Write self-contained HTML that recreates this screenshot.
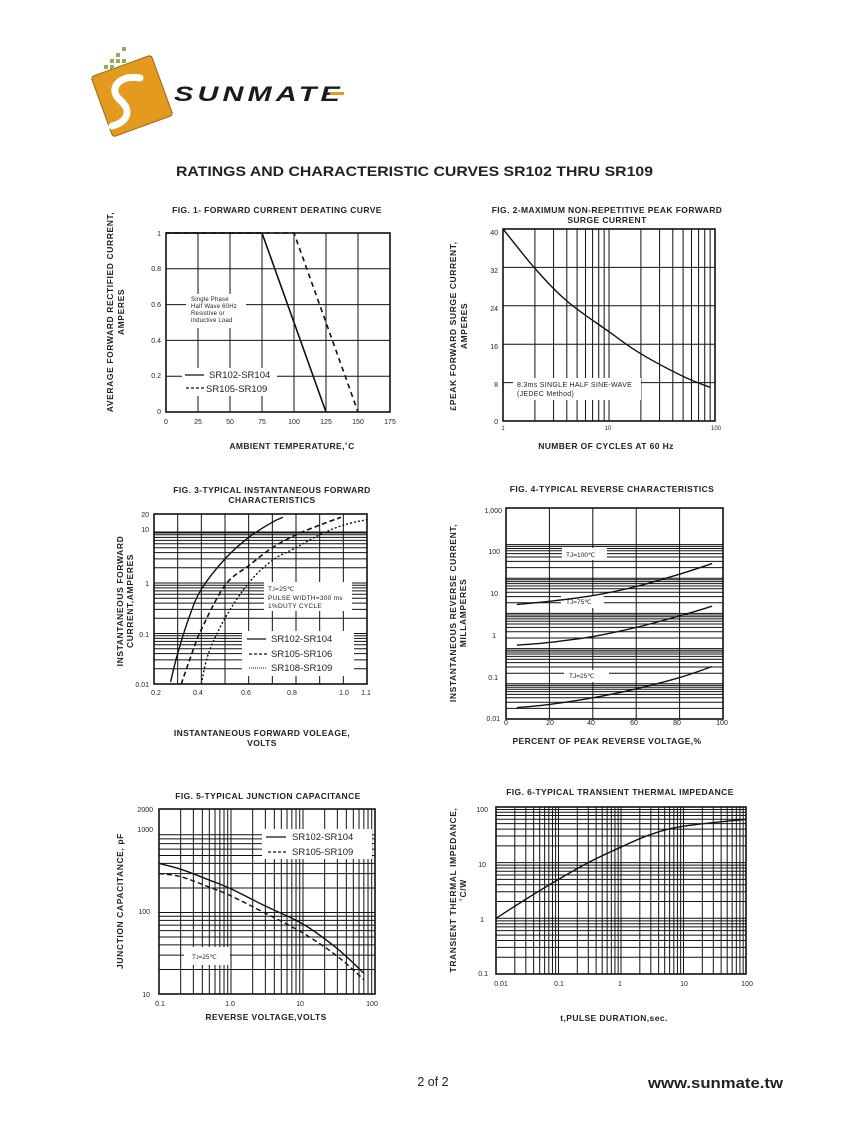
<!DOCTYPE html>
<html><head><meta charset="utf-8"><style>
html,body{margin:0;padding:0;background:#fff;}
svg{display:block;}
text{font-family:"Liberation Sans",Arial,sans-serif;fill:#222;}
.t{font-size:7px;}
.b{font-size:8.5px;font-weight:bold;letter-spacing:0.6px;}
.f{font-size:8.5px;font-weight:bold;letter-spacing:0.4px;}
.l{font-size:10px;}
.s{font-size:6.5px;letter-spacing:0.3px;}
</style></head><body>
<svg id="sv" width="847" height="1125" viewBox="0 0 847 1125" xmlns="http://www.w3.org/2000/svg">
<rect width="847" height="1125" fill="#fff"/>
<!-- logo -->
<g transform="rotate(-20 132 96)">
<rect x="100" y="64" width="64" height="64" rx="3" fill="#e39a1e"/>
<rect x="100" y="64" width="64" height="64" rx="3" fill="none" stroke="#9a6a10" stroke-width="1"/>
</g>
<path d="M140 78 C118 74,108 90,120 100 C132 110,128 122,112 126" fill="none" stroke="#fff" stroke-width="7" stroke-linecap="round"/>
<g fill="#8fae5a"><rect x="116" y="53" width="4" height="4"/><rect x="110" y="59" width="4" height="4"/><rect x="116" y="59" width="4" height="4"/><rect x="122" y="59" width="4" height="4"/><rect x="104" y="65" width="4" height="4"/><rect x="110" y="65" width="4" height="4"/><rect x="122" y="47" width="4" height="4"/></g>
<text x="174" y="101" style="font-size:21px;font-weight:bold;font-style:italic;letter-spacing:3px;fill:#1a1a1a" textLength="170" lengthAdjust="spacingAndGlyphs">SUNMATE</text>
<rect x="330" y="92" width="14" height="3" fill="#e39a1e"/>

<text x="176" y="176" style="font-size:14px;font-weight:bold" textLength="477" lengthAdjust="spacingAndGlyphs">RATINGS AND CHARACTERISTIC CURVES SR102 THRU SR109</text>

<g id="grids"></g>

<!-- Fig1 text -->
<text class="f" x="277" y="213" text-anchor="middle">FIG. 1- FORWARD CURRENT DERATING CURVE</text>
<g class="t" text-anchor="end"><text x="161" y="236">1</text><text x="161" y="271">0.8</text><text x="161" y="307">0.6</text><text x="161" y="343">0.4</text><text x="161" y="378">0.2</text><text x="161" y="414">0</text></g>
<g class="t" text-anchor="middle"><text x="166" y="424">0</text><text x="198" y="424">25</text><text x="230" y="424">50</text><text x="262" y="424">75</text><text x="294" y="424">100</text><text x="326" y="424">125</text><text x="358" y="424">150</text><text x="390" y="424">175</text></g>
<text class="b" transform="translate(113 312) rotate(-90)" text-anchor="middle">AVERAGE FORWARD RECTIFIED CURRENT,</text>
<text class="b" transform="translate(124 312) rotate(-90)" text-anchor="middle">AMPERES</text>
<text class="f" x="292" y="449" text-anchor="middle">AMBIENT TEMPERATURE,˚C</text>

<!-- Fig2 -->
<text class="f" x="607" y="213" text-anchor="middle">FIG. 2-MAXIMUM NON-REPETITIVE PEAK FORWARD</text>
<text class="f" x="607" y="223" text-anchor="middle">SURGE CURRENT</text>
<g class="t" text-anchor="end"><text x="498" y="235">40</text><text x="498" y="273">32</text><text x="498" y="311">24</text><text x="498" y="349">16</text><text x="498" y="387">8</text><text x="498" y="424">0</text></g>
<g class="t" text-anchor="middle" style="font-size:6px"><text x="503" y="430">1</text><text x="608" y="430">10</text><text x="716" y="430">100</text></g>
<text class="b" transform="translate(456 326) rotate(-90)" text-anchor="middle">£PEAK  FORWARD SURGE CURRENT,</text>
<text class="b" transform="translate(467 326) rotate(-90)" text-anchor="middle">AMPERES</text>
<text class="f" x="606" y="449" text-anchor="middle">NUMBER OF CYCLES AT 60 Hz</text>

<!-- Fig3 -->
<text class="f" x="272" y="493" text-anchor="middle">FIG. 3-TYPICAL INSTANTANEOUS FORWARD</text>
<text class="f" x="272" y="503" text-anchor="middle">CHARACTERISTICS</text>
<g class="t" text-anchor="end"><text x="149" y="517">20</text><text x="149" y="532">10</text><text x="149" y="586">1</text><text x="149" y="637">0.1</text><text x="149" y="687">0.01</text></g>
<g class="t" text-anchor="middle"><text x="156" y="695">0.2</text><text x="198" y="695">0.4</text><text x="246" y="695">0.6</text><text x="292" y="695">0.8</text><text x="344" y="695">1.0</text><text x="366" y="695">1.1</text></g>
<text class="b" transform="translate(123 601) rotate(-90)" text-anchor="middle">INSTANTANEOUS FORWARD</text>
<text class="b" transform="translate(133 601) rotate(-90)" text-anchor="middle">CURRENT,AMPERES</text>
<text class="f" x="262" y="736" text-anchor="middle">INSTANTANEOUS FORWARD VOLEAGE,</text>
<text class="f" x="262" y="746" text-anchor="middle">VOLTS</text>

<!-- Fig4 -->
<text class="f" x="612" y="492" text-anchor="middle">FIG. 4-TYPICAL REVERSE CHARACTERISTICS</text>
<g class="t" text-anchor="end"><text x="502" y="513">1,000</text><text x="500" y="554">100</text><text x="498" y="596">10</text><text x="496" y="638">1</text><text x="498" y="680">0.1</text><text x="500" y="721">0.01</text></g>
<g class="t" text-anchor="middle"><text x="506" y="725">0</text><text x="550" y="725">20</text><text x="591" y="725">40</text><text x="634" y="725">60</text><text x="677" y="725">80</text><text x="722" y="725">100</text></g>
<text class="b" transform="translate(456 613) rotate(-90)" text-anchor="middle">INSTANTANEOUS REVERSE CURRENT,</text>
<text class="b" transform="translate(466 613) rotate(-90)" text-anchor="middle">MILLAMPERES</text>
<text class="f" x="607" y="744" text-anchor="middle">PERCENT OF PEAK REVERSE VOLTAGE,%</text>

<!-- Fig5 -->
<text class="f" x="268" y="799" text-anchor="middle">FIG. 5-TYPICAL JUNCTION CAPACITANCE</text>
<g class="t" text-anchor="end"><text x="153" y="812">2000</text><text x="153" y="832">1000</text><text x="150" y="914">100</text><text x="150" y="997">10</text></g>
<g class="t" text-anchor="middle"><text x="160" y="1006">0.1</text><text x="230" y="1006">1.0</text><text x="300" y="1006">10</text><text x="372" y="1006">100</text></g>
<text class="b" transform="translate(123 901) rotate(-90)" text-anchor="middle">JUNCTION CAPACITANCE, pF</text>
<text class="f" x="266" y="1020" text-anchor="middle">REVERSE VOLTAGE,VOLTS</text>

<!-- Fig6 -->
<text class="f" x="620" y="795" text-anchor="middle">FIG. 6-TYPICAL TRANSIENT THERMAL IMPEDANCE</text>
<g class="t" text-anchor="end"><text x="488" y="812">100</text><text x="486" y="867">10</text><text x="484" y="922">1</text><text x="488" y="976">0.1</text></g>
<g class="t" text-anchor="middle"><text x="501" y="986">0.01</text><text x="559" y="986">0.1</text><text x="620" y="986">1</text><text x="684" y="986">10</text><text x="747" y="986">100</text></g>
<text class="b" transform="translate(456 890) rotate(-90)" text-anchor="middle">TRANSIENT THERMAL IMPEDANCE,</text>
<text class="b" transform="translate(466 890) rotate(-90)" text-anchor="middle">˚C/W</text>
<text class="f" x="614" y="1021" text-anchor="middle">t,PULSE DURATION,sec.</text>

<text x="433" y="1086" text-anchor="middle" style="font-size:12.5px">2 of 2</text>
<text x="648" y="1088" style="font-size:14.5px;font-weight:bold" textLength="135" lengthAdjust="spacingAndGlyphs">www.sunmate.tw</text>
</svg>
<script>
var NS="http://www.w3.org/2000/svg",G=document.getElementById('grids');
function el(t,a,p){var e=document.createElementNS(NS,t);for(var k in a)e.setAttribute(k,a[k]);(p||G).appendChild(e);return e;}
function L(x1,y1,x2,y2,w){el('line',{x1:x1,y1:y1,x2:x2,y2:y2,stroke:'#111','stroke-width':w||1});}
function box(x0,y0,x1,y1){el('rect',{x:x0,y:y0,width:x1-x0,height:y1-y0,fill:'none',stroke:'#111','stroke-width':1.6});}
function W(x,y,w,h){el('rect',{x:x,y:y,width:w,height:h,fill:'#fff'});}
function logs(a,b){var r=[];for(var d=a;d<b;d*=10)for(var i=1;i<10;i++){var v=d*i;if(v>a&&v<b)r.push(v);}return r;}
function lg(v){return Math.log(v)/Math.LN10;}
function curve(pts,dash,w){var d='M'+pts[0][0]+' '+pts[0][1];for(var i=0;i<pts.length-1;i++){var p0=pts[i-1]||pts[i],p1=pts[i],p2=pts[i+1],p3=pts[i+2]||p2;var c1=[p1[0]+(p2[0]-p0[0])/6,p1[1]+(p2[1]-p0[1])/6],c2=[p2[0]-(p3[0]-p1[0])/6,p2[1]-(p3[1]-p1[1])/6];d+='C'+c1+' '+c2+' '+p2;}var a={d:d,fill:'none',stroke:'#111','stroke-width':w||1.6};if(dash)a['stroke-dasharray']=dash;el('path',a);}
(function(){var X=function(t){return 166+t*224/175},Y=function(v){return 412-v*179};
for(var t=25;t<175;t+=25)L(X(t),233,X(t),412);for(var v=0.2;v<1;v+=0.2)L(166,Y(v),390,Y(v));
W(186,294,60,34);W(182,368,95,28);box(166,233,390,412);
el('polyline',{points:[X(0),Y(1),X(75),Y(1),X(125),Y(0)].join(' '),fill:'none',stroke:'#111','stroke-width':1.6});
el('polyline',{points:[X(0),Y(1),X(100),Y(1),X(150),Y(0)].join(' '),fill:'none',stroke:'#111','stroke-width':1.6,'stroke-dasharray':'5,4'});
})();
(function(){var X=function(n){return 503+lg(n)*106},Y=function(v){return 421-v*4.8};
logs(1,100).forEach(function(n){L(X(n),229,X(n),421);});for(var v=8;v<40;v+=8)L(503,Y(v),715,Y(v));
W(513,378,128,22);box(503,229,715,421);
curve([[1,40],[2,31.8],[4,25],[10,18.6],[20,14],[50,9.3],[90,7]].map(function(p){return[X(p[0]),Y(p[1])]}),null,1.4);
})();
(function(){var X=function(v){return 154+(v-0.2)*(213/0.9)},Y=function(v){return 684-(lg(v)+2)*50.5};
for(var v=0.3;v<1.1;v+=0.1)L(X(v),514,X(v),684);logs(0.01,20).forEach(function(n){L(154,Y(n),367,Y(n));});
L(154,Y(10),367,Y(10),2);
W(264,582,88,29);W(242,631,112,45);box(154,514,367,684);
var m=function(a){return a.map(function(p){return[X(p[0]),Y(p[1])]})};
curve(m([[0.27,0.011],[0.3,0.04],[0.35,0.22],[0.4,0.75],[0.5,3],[0.6,8],[0.7,16],[0.745,20]]),null,1.4);
curve(m([[0.315,0.01],[0.36,0.04],[0.4,0.12],[0.5,0.9],[0.6,2.2],[0.7,5],[0.8,9],[0.9,14],[0.99,20]]),'5,3',1.6);
curve(m([[0.4,0.01],[0.43,0.04],[0.5,0.2],[0.6,1],[0.7,2.8],[0.8,5],[0.9,9],[1.0,14],[1.1,18]]),'2,2',1.4);
})();
(function(){var X=function(v){return 506+v*2.17},Y=function(v){return 719-(lg(v)+2)*35.2};
[20,40,60,80].forEach(function(v){L(X(v),508,X(v),719);});logs(0.01,1000).forEach(function(n){L(506,Y(n),723,Y(n));});
W(562,548,45,12);W(561,596,43,12);W(564,670,45,12);box(506,508,723,719);
var m=function(a){return a.map(function(p){return[X(p[0]),Y(p[1])]})};
curve(m([[5,18],[20,22],[40,32],[60,58],[80,130],[95,260]]),null,1.4);
curve(m([[5,1.25],[20,1.5],[40,2.2],[60,4],[80,8.5],[95,16]]),null,1.4);
curve(m([[5,0.021],[20,0.026],[40,0.04],[60,0.072],[80,0.15],[95,0.31]]),null,1.4);
})();
(function(){var X=function(v){return 159+(lg(v)+1)*72},Y=function(v){return 994-(lg(v)-1)*81.5};
logs(0.1,100).forEach(function(n){L(X(n),809,X(n),994);});logs(10,1000).forEach(function(n){L(159,Y(n),375,Y(n));});
W(262,829,110,30);W(184,947,46,18);box(159,809,375,994);
var m=function(a){return a.map(function(p){return[X(p[0]),Y(p[1])]})};
curve(m([[0.1,400],[0.2,340],[0.5,250],[1,195],[3,120],[10,72],[30,36],[70,18]]),null,1.4);
curve(m([[0.1,300],[0.2,275],[0.5,205],[1,160],[3,98],[10,56],[30,29],[70,15]]),'5,3',1.4);
})();
(function(){var X=function(v){return 496+(lg(v)+2)*62.5},Y=function(v){return 974-(lg(v)+1)*55.7};
logs(0.01,100).forEach(function(n){L(X(n),807,X(n),974);});logs(0.1,100).forEach(function(n){L(496,Y(n),746,Y(n));});
box(496,807,746,974);
curve([[0.01,1],[0.03,2.2],[0.1,5],[0.3,10],[1,19],[3,32],[10,45],[100,60]].map(function(p){return[X(p[0]),Y(p[1])]}),null,1.4);
})();
</script>
<svg width="847" height="1125" style="position:absolute;left:0;top:0" xmlns="http://www.w3.org/2000/svg">
<style>text{font-family:"Liberation Sans",Arial,sans-serif;fill:#222;}</style>
<g style="font-size:6px;letter-spacing:0.2px"><text x="191" y="301">Single Phase</text><text x="191" y="308">Half Wave 60Hz</text><text x="191" y="315">Resistive or</text><text x="191" y="322">inductive Load</text></g>
<line x1="185" y1="375" x2="204" y2="375" stroke="#111" stroke-width="1.2"/><text x="209" y="378" style="font-size:9.5px">SR102-SR104</text>
<line x1="186" y1="388" x2="206" y2="388" stroke="#111" stroke-width="1.2" stroke-dasharray="3,2"/><text x="206" y="392" style="font-size:9.5px">SR105-SR109</text>
<g style="font-size:7px;letter-spacing:0.3px"><text x="517" y="387">8.3ms SINGLE HALF SINE-WAVE</text><text x="517" y="396">(JEDEC Method)</text></g>
<g style="font-size:6.5px;letter-spacing:0.3px"><text x="268" y="591">T<tspan style="font-size:5px">J</tspan>=25℃</text><text x="268" y="600">PULSE WIDTH=300 ms</text><text x="268" y="608">1%DUTY CYCLE</text></g>
<line x1="247" y1="639" x2="266" y2="639" stroke="#111" stroke-width="1.2"/><text x="271" y="642" style="font-size:9.5px">SR102-SR104</text>
<line x1="249" y1="654" x2="267" y2="654" stroke="#111" stroke-width="1.2" stroke-dasharray="3,2"/><text x="271" y="657" style="font-size:9.5px">SR105-SR106</text>
<line x1="249" y1="668" x2="267" y2="668" stroke="#111" stroke-width="1" stroke-dasharray="1,1"/><text x="271" y="671" style="font-size:9.5px">SR108-SR109</text>
<g style="font-size:6.5px"><text x="566" y="557">TJ=100℃</text><text x="566" y="604">TJ=75℃</text><text x="569" y="678">TJ=25℃</text></g>
<line x1="266" y1="837" x2="286" y2="837" stroke="#111" stroke-width="1.2"/><text x="292" y="840" style="font-size:9.5px">SR102-SR104</text>
<line x1="268" y1="852" x2="288" y2="852" stroke="#111" stroke-width="1.2" stroke-dasharray="3,2"/><text x="292" y="855" style="font-size:9.5px">SR105-SR109</text>
<text x="192" y="959" style="font-size:6.5px">T<tspan style="font-size:5px">J</tspan>=25℃</text>
</svg>
</body></html>
